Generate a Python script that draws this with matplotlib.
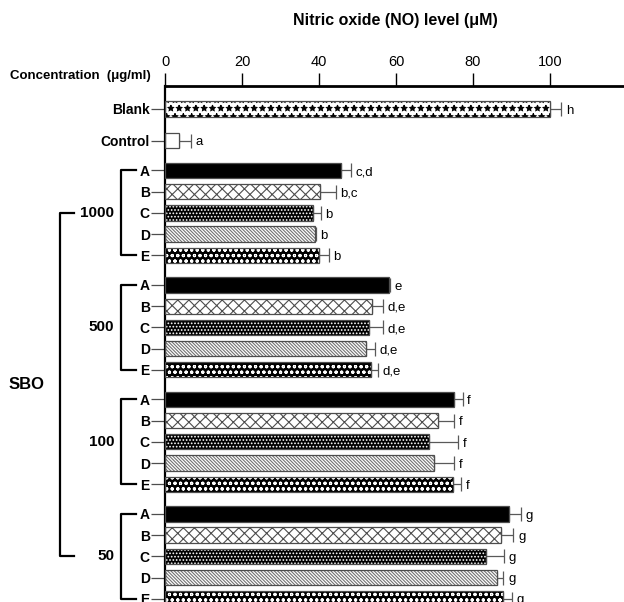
import matplotlib
matplotlib.use("Agg")
import matplotlib.pyplot as plt
import numpy as np

plt.rcParams['font.family'] = ['Liberation Sans', 'DejaVu Sans']
plt.rcParams['hatch.linewidth'] = 0.8

# data
groups = ['1000', '500', '100', '50']
samples = ['A', 'B', 'C', 'D', 'E']
blank_val, blank_err, blank_sig = 100.0, 2.9, 'h'
control_val, control_err, control_sig = 3.7, 3.0, 'a'
sbo_vals = [
    [45.6, 40.2, 38.4, 39.0, 39.9],
    [58.1, 53.7, 53.1, 52.2, 53.5],
    [75.1, 70.8, 68.7, 69.9, 74.8],
    [89.4, 87.4, 83.5, 86.3, 87.8],
]
sbo_errs = [
    [2.8, 4.1, 2.0, 0.2, 2.6],
    [0.4, 2.9, 3.6, 2.3, 1.9],
    [2.2, 4.3, 7.5, 5.2, 2.1],
    [3.0, 3.1, 4.6, 1.6, 2.4],
]
sbo_sigs = [
    ['c,d', 'b,c', 'b', 'b', 'b'],
    ['e', 'd,e', 'd,e', 'd,e', 'd,e'],
    ['f', 'f', 'f', 'f', 'f'],
    ['g', 'g', 'g', 'g', 'g'],
]

# fill styles per sample: (face, hatch, hatch colour)
styles = {
    'A': ('black', None, 'black'),
    'B': ('white', 'xxx', '0.3'),
    'C': ('black', '.....', 'white'),
    'D': ('white', '\\\\\\\\\\\\\\\\\\\\', '0.45'),
    'E': ('black', 'ooo', 'white'),
}

fig = plt.figure(figsize=(6.24, 6.02), dpi=100)
left_px, top_px = 165, 86
ax = fig.add_axes([left_px / 624, 0, 1 - left_px / 624, 1 - top_px / 602])

step = 1.0
bh = 0.72
pos_blank = 0.0
pos_control = 1.5
group_start = [2.9 + 5.4 * g for g in range(len(groups))]


def draw_bar(y, val, err, sig, face, hatch, hcol):
    ax.barh(y, val, height=bh, color=face, edgecolor=hcol, hatch=hatch,
            linewidth=0, zorder=2)
    ax.barh(y, val, height=bh, fill=False, edgecolor='0.3', linewidth=0.9,
            zorder=3)
    ax.errorbar(val, y, xerr=[[0], [err]], fmt='none', ecolor='0.35',
                elinewidth=0.9, capsize=5, capthick=0.9, zorder=1)
    ax.text(val + err + 1.2, y + 0.08, sig, fontsize=9.5, ha='left',
            va='center')


# blank bar: white with black diamonds
draw_bar(pos_blank, blank_val, blank_err, blank_sig, 'white', '**', 'black')
draw_bar(pos_control, control_val, control_err, control_sig, 'white', None,
         'white')

ytick_pos = [pos_blank, pos_control]
ytick_lab = ['Blank', 'Control']
for g, gname in enumerate(groups):
    for i, s in enumerate(samples):
        y = group_start[g] + i * step
        face, hatch, hcol = styles[s]
        draw_bar(y, sbo_vals[g][i], sbo_errs[g][i], sbo_sigs[g][i],
                 face, hatch, hcol)
        ytick_pos.append(y)
        ytick_lab.append(s)

ax.set_yticks(ytick_pos)
ax.set_yticklabels(ytick_lab, fontweight='bold', fontsize=10)
ax.tick_params(axis='y', length=10, width=0.9, color='0.3', pad=1)

ax.set_xlim(0, (624 - left_px) / 3.85)
ax.set_ylim(pos_blank + (602 - 109) / 21.2, pos_blank - (109 - top_px) / 21.2)
ax.xaxis.set_ticks_position('top')
ax.set_xticks([0, 20, 40, 60, 80, 100])
ax.tick_params(axis='x', direction='out', length=9.5, width=1.0, pad=3,
               labelsize=10.5)

ax.spines['right'].set_visible(False)
ax.spines['bottom'].set_visible(False)
ax.spines['top'].set_linewidth(2.0)
ax.spines['left'].set_linewidth(1.6)

# title and row header
fig.text(395 / 624, 1 - 20 / 602, 'Nitric oxide (NO) level (\u03bcM)',
         ha='center', va='center', fontsize=11.5, fontweight='bold')
fig.text(10 / 624, 1 - 76 / 602, 'Concentration  (\u03bcg/ml)', ha='left',
         va='center', fontsize=9.5, fontweight='bold')

# brackets
tr = ax.get_yaxis_transform()
axw = 624 - left_px


def px(x):
    return (x - left_px) / axw


for g, gname in enumerate(groups):
    y0 = group_start[g]
    y1 = group_start[g] + 4 * step
    ax.plot([px(136), px(121), px(121), px(136)], [y0, y0, y1, y1],
            color='black', lw=1.6, transform=tr, clip_on=False)
    ax.text(px(114), group_start[g] + 2 * step, gname, transform=tr,
            ha='right', va='center', fontsize=11, fontweight='bold')

ys0 = group_start[0] + 2 * step
ys1 = group_start[-1] + 2 * step
ax.plot([px(74), px(60), px(60), px(74)], [ys0, ys0, ys1, ys1], color='black',
        lw=1.6, transform=tr, clip_on=False)
ax.text(px(27), (ys0 + ys1) / 2, 'SBO', transform=tr, ha='center',
        va='center', fontsize=12, fontweight='bold')

fig.savefig('out.png', dpi=100)
